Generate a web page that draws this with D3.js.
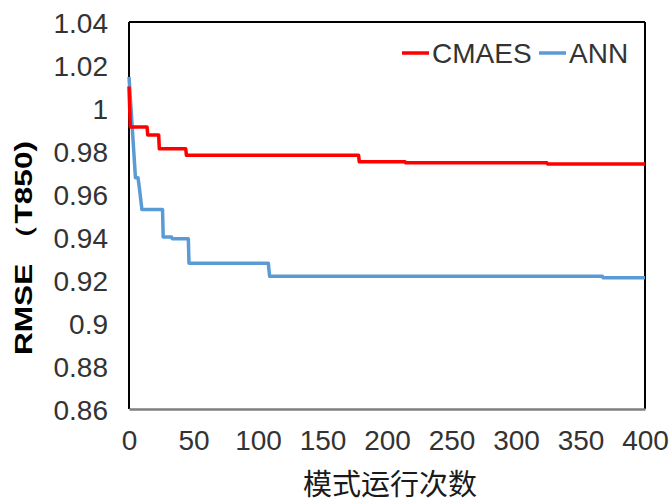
<!DOCTYPE html>
<html><head><meta charset="utf-8">
<script src="https://cdn.jsdelivr.net/npm/d3@7/dist/d3.min.js"></script>
<style>body{margin:0;background:#fff}</style>
</head><body>
<svg id="c" width="670" height="504"></svg>
<script>
const seriesNames = ["CMAES", "ANN"];
const seriesColors = ["#FF0000", "#5B9BD5"];
const cmaesX = [0, 1, 14, 14.5, 23, 23.5, 44, 44.5, 178, 178.5, 214, 214.5, 324, 324.5, 400];
const cmaesY = [1.0100, 0.9912, 0.9912, 0.9875, 0.9875, 0.9810, 0.9810, 0.9780, 0.9780, 0.9750, 0.9750, 0.9745, 0.9745, 0.9740, 0.9740];
const annX = [0, 5, 7, 8, 10, 10.5, 26, 26.5, 33, 33.5, 46, 46.5, 108, 109, 367, 367.5, 400];
const annY = [1.0145, 0.9676, 0.9676, 0.9630, 0.9528, 0.9528, 0.9528, 0.9400, 0.9400, 0.9392, 0.9392, 0.9278, 0.9278, 0.9217, 0.9217, 0.9210, 0.9210];
const yTicks = [0.86, 0.88, 0.9, 0.92, 0.94, 0.96, 0.98, 1, 1.02, 1.04];
const xTicks = [0, 50, 100, 150, 200, 250, 300, 350, 400];
const xTitle = "模式运行次数";
const yTitle = "RMSE （T850)";

const svg = d3.select("#c");
const L = 129, R = 645, T = 22, B = 409;
const x = d3.scaleLinear().domain([0, 400]).range([L, R]);
const y = d3.scaleLinear().domain([0.86, 1.04]).range([B, T]);
const tickFont = "'Liberation Sans', Arial, sans-serif";

// frame
svg.append("line").attr("x1", L).attr("x2", R).attr("y1", T).attr("y2", T).attr("stroke", "#000").attr("stroke-width", 2);
svg.append("line").attr("x1", L).attr("x2", L).attr("y1", T).attr("y2", B).attr("stroke", "#000").attr("stroke-width", 2);
svg.append("line").attr("x1", R).attr("x2", R).attr("y1", T).attr("y2", B).attr("stroke", "#000").attr("stroke-width", 2);

// axes
const yAxis = svg.append("g").attr("transform", `translate(${L},0)`)
  .call(d3.axisLeft(y).tickValues(yTicks).tickSize(0).tickPadding(21).tickFormat(d => String(+d.toFixed(2))));
yAxis.select(".domain").remove();
yAxis.selectAll("text").attr("font-family", tickFont).attr("font-size", 28).attr("fill", "#333").attr("dy", "0.36em");

const xAxis = svg.append("g").attr("transform", `translate(0,${B})`)
  .call(d3.axisBottom(x).tickValues(xTicks).tickSize(0).tickPadding(21).tickFormat(d3.format("d")));
xAxis.select(".domain").attr("stroke", "#7f7f7f").attr("stroke-width", 2.5);
xAxis.selectAll("text").attr("font-family", tickFont).attr("font-size", 28).attr("fill", "#333").attr("dy", "0.71em");

// lines
const line = d3.line().x(d => x(d[0])).y(d => y(d[1]));
const sets = [d3.zip(cmaesX, cmaesY), d3.zip(annX, annY)];
[1, 0].forEach(i => {
  svg.append("path").datum(sets[i]).attr("d", line).attr("fill", "none")
    .attr("stroke", seriesColors[i]).attr("stroke-width", 3.5).attr("stroke-linejoin", "round");
});

// legend
const legX = [402, 539];
seriesNames.forEach((n, i) => {
  svg.append("line").attr("x1", legX[i]).attr("x2", legX[i] + 27).attr("y1", 53).attr("y2", 53)
    .attr("stroke", seriesColors[i]).attr("stroke-width", 3.5);
  svg.append("text").attr("x", legX[i] + 30).attr("y", 53).attr("dy", "0.36em")
    .attr("font-family", tickFont).attr("font-size", 28).attr("fill", "#333").text(n);
});

// titles
svg.append("text").attr("x", 390).attr("y", 495).attr("text-anchor", "middle")
  .attr("font-family", "'Noto Sans CJK SC', sans-serif").attr("font-size", 29).attr("fill", "#1a1a1a").text(xTitle);
svg.append("text").attr("transform", "translate(32,248) rotate(-90)").attr("text-anchor", "middle")
  .attr("font-family", "'Liberation Sans', Arial, sans-serif").attr("font-weight", "bold").attr("font-size", 23)
  .attr("textLength", 214).attr("lengthAdjust", "spacingAndGlyphs")
  .attr("fill", "#000").text(yTitle);
</script>
</body></html>
